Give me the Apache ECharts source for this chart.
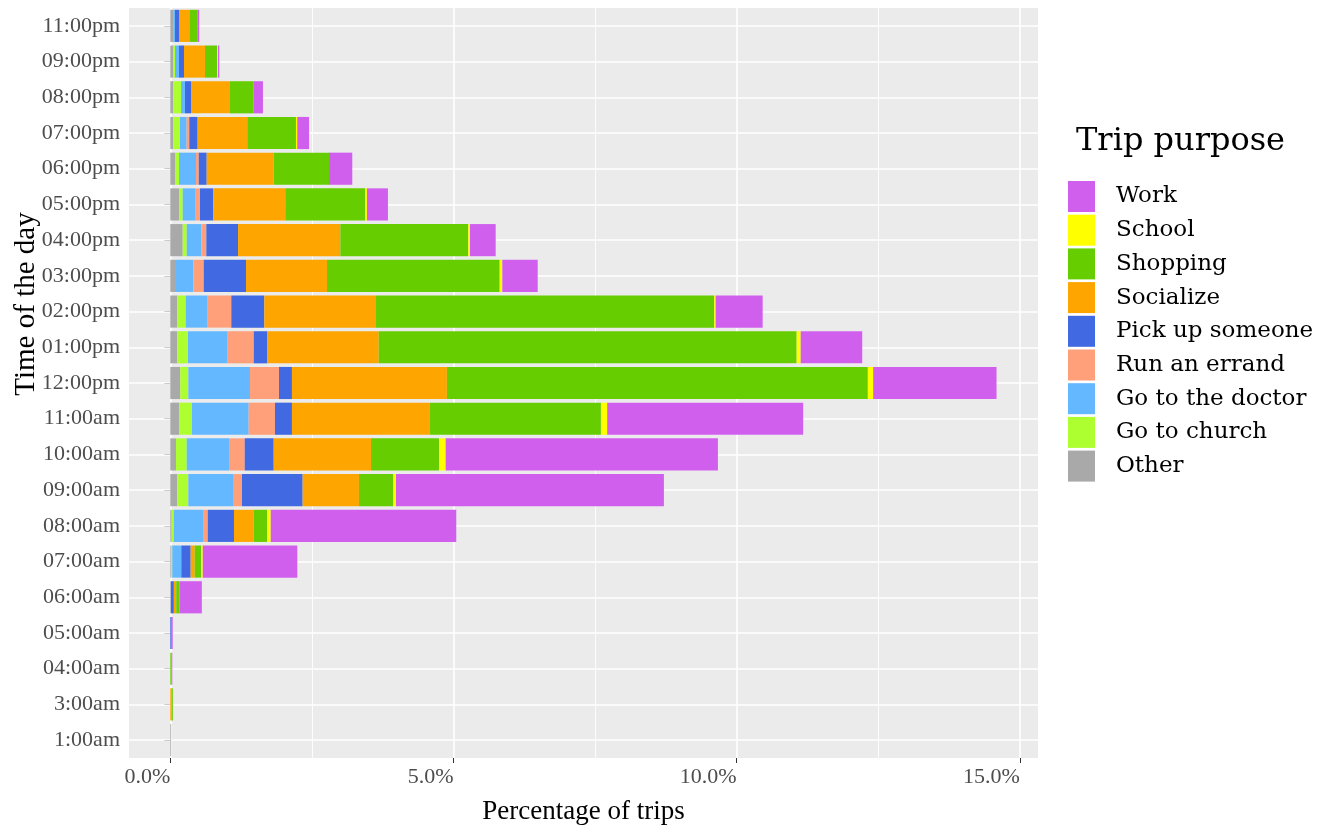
<!DOCTYPE html>
<html>
<head>
<meta charset="utf-8">
<script src="https://cdn.jsdelivr.net/npm/echarts@6/dist/echarts.min.js"></script>
<style>html,body{margin:0;padding:0;background:#fff}#c{width:1321px;height:830px}</style>
</head>
<body>
<div id="c"></div>
<script>
// Categories, bottom to top
const categories = ['1:00am','3:00am','04:00am','05:00am','06:00am','07:00am','08:00am','09:00am','10:00am','11:00am','12:00pm','01:00pm','02:00pm','03:00pm','04:00pm','05:00pm','06:00pm','07:00pm','08:00pm','09:00pm','11:00pm'];

// Percentage of trips per purpose (stack order left -> right)
const other    = [0.015,0,0,0,0.010,0.012,0.025,0.124,0.101,0.154,0.177,0.124,0.124,0.101,0.219,0.154,0.083,0.053,0.053,0.053,0.053];
const church   = [0,0,0,0,0,0.023,0.035,0.194,0.189,0.229,0.141,0.189,0.148,0,0.071,0.065,0.071,0.118,0.136,0.030,0];
const doctor   = [0,0,0,0,0,0.159,0.530,0.789,0.747,1.001,1.089,0.701,0.388,0.305,0.258,0.229,0.300,0.118,0.071,0.071,0.030];
const errand   = [0,0,0,0,0,0,0.071,0.159,0.277,0.464,0.512,0.459,0.417,0.184,0.088,0.076,0.048,0.046,0,0,0];
const pickup   = [0,0,0,0.025,0.053,0.166,0.464,1.071,0.512,0.300,0.229,0.235,0.583,0.747,0.560,0.235,0.141,0.148,0.106,0.088,0.071];
const socialize= [0,0.020,0,0,0.042,0.071,0.348,0.994,1.718,2.436,2.736,1.972,1.972,1.430,1.806,1.271,1.183,0.876,0.688,0.371,0.182];
const shopping = [0,0.025,0.025,0,0.058,0.117,0.235,0.605,1.200,3.019,7.432,7.379,5.972,3.049,2.259,1.412,0.976,0.860,0.418,0.212,0.141];
const school   = [0,0,0,0,0,0.025,0.065,0.048,0.118,0.111,0.094,0.071,0.025,0.046,0.030,0.030,0,0.023,0,0.018,0];
const work     = [0,0,0.010,0.018,0.394,1.670,3.276,4.731,4.807,3.460,2.178,1.087,0.830,0.625,0.454,0.371,0.411,0.207,0.164,0.023,0.035];

const xTickValues = [0,5,10,15];
const xMinorValues = [2.5,7.5,12.5];
const legendOrder = ['Work','School','Shopping','Socialize','Pick up someone','Run an errand','Go to the doctor','Go to church','Other'];

const seriesDefs = [
  ['Other', other, '#A9A9A9'],
  ['Go to church', church, '#ADFF2F'],
  ['Go to the doctor', doctor, '#63B8FF'],
  ['Run an errand', errand, '#FFA07A'],
  ['Pick up someone', pickup, '#4169E1'],
  ['Socialize', socialize, '#FFA500'],
  ['Shopping', shopping, '#66CD00'],
  ['School', school, '#FFFF00'],
  ['Work', work, '#D15FEE']
];

const serif = '"Liberation Serif", "Times New Roman", serif';
const legendFont = '"DejaVu Serif", Georgia, serif';

const gridLineData = []
  .concat(xTickValues.map(v => ({xAxis: v, lineStyle: {width: 1.6}})))
  .concat(xMinorValues.map(v => ({xAxis: v, lineStyle: {width: 0.9}})))
  .concat(categories.map(c => ({yAxis: c, lineStyle: {width: 1.6}})));

const series = seriesDefs.map(([name, data, color], i) => {
  const s = {
    name, type: 'bar', stack: 'total', data,
    barWidth: '90%',
    itemStyle: {color},
    emphasis: {disabled: true},
    z: 3
  };
  if (i === 0) {
    s.markLine = {
      silent: true, symbol: 'none', z: 1,
      label: {show: false},
      lineStyle: {color: '#FFFFFF', type: 'solid'},
      emphasis: {disabled: true},
      data: gridLineData
    };
  }
  return s;
});

const chart = echarts.init(document.getElementById('c'));
chart.setOption({
  animation: false,
  backgroundColor: '#FFFFFF',
  title: {
    text: 'Trip purpose', left: 1071, top: 121,
    textStyle: {fontFamily: legendFont, fontSize: 32, fontWeight: 'normal', color: '#000'}
  },
  legend: {
    data: legendOrder,
    orient: 'vertical', left: 1063, top: 176,
    icon: 'rect', itemWidth: 27, itemHeight: 31, itemGap: 2.7,
    selectedMode: false,
    textStyle: {fontFamily: legendFont, fontSize: 23, color: '#000', padding: [0,0,0,16]}
  },
  grid: {
    left: 129, top: 8, width: 909, height: 751,
    show: true, backgroundColor: '#EBEBEB', borderWidth: 0,
    containLabel: false
  },
  xAxis: {
    type: 'value', min: -0.729, max: 15.32,
    axisLine: {show: false},
    splitLine: {show: false},
    axisTick: {show: true, customValues: xTickValues, length: 5, lineStyle: {color: '#333'}},
    axisLabel: {
      customValues: xTickValues, align: 'right', margin: 8,
      fontFamily: serif, fontSize: 22, color: '#4D4D4D',
      formatter: v => v.toFixed(1) + '%'
    },
    name: 'Percentage of trips', nameLocation: 'middle', nameGap: 40,
    nameTextStyle: {fontFamily: serif, fontSize: 27, color: '#000'}
  },
  yAxis: {
    type: 'category', data: categories,
    axisLine: {show: false},
    splitLine: {show: false},
    axisTick: {show: true, alignWithLabel: true, length: 6, lineStyle: {color: '#333'}},
    axisLabel: {fontFamily: serif, fontSize: 22, color: '#4D4D4D', margin: 9}
  },
  graphic: [{
    type: 'text', x: 26, y: 304, rotation: Math.PI / 2,
    style: {text: 'Time of the day', font: '29px "Liberation Serif", serif', fill: '#000', align: 'center', verticalAlign: 'middle'}
  }],
  series
});
</script>
</body>
</html>
